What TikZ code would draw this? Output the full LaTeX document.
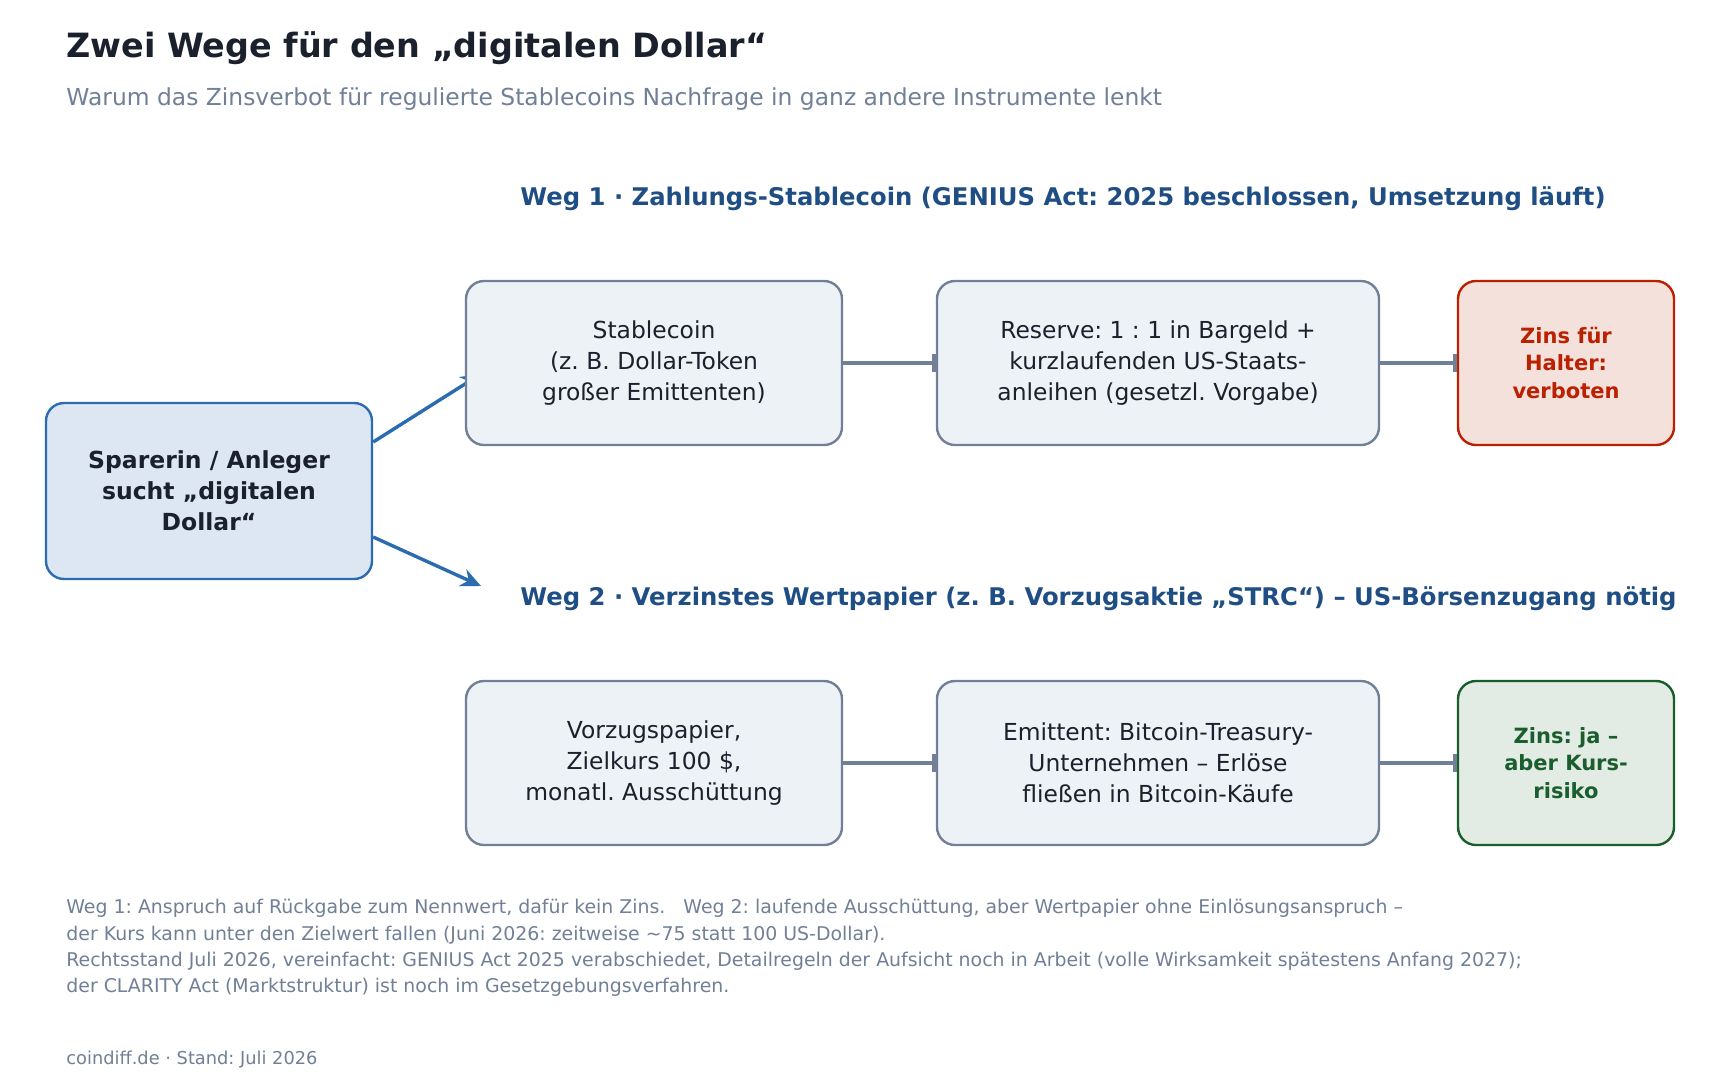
\documentclass[tikz,border=0pt]{standalone}
\usepackage{fontspec}
\setmainfont{DejaVu Sans}
\usetikzlibrary{arrows.meta,positioning,calc,backgrounds}
\frenchspacing

\definecolor{inkdark}{HTML}{1A202C}
\definecolor{slate}{HTML}{718096}
\definecolor{boxfill}{HTML}{EDF2F7}
\definecolor{wegblue}{HTML}{1F4E84}
\definecolor{arrowblue}{HTML}{2B6CB0}
\definecolor{saverfill}{HTML}{DCE7F3}
\definecolor{nored}{HTML}{B92100}
\definecolor{noredfill}{HTML}{F5E1DC}
\definecolor{okgreen}{HTML}{1A5E2D}
\definecolor{okgreenfill}{HTML}{E3ECE4}

\tikzset{
  stepbox/.style={draw=slate, fill=boxfill, line width=1.2pt, rounded corners=9pt,
    minimum height=82pt, align=center, text=inkdark, font=\fontsize{11.7}{15.5}\selectfont},
  verdict/.style={stepbox, minimum width=108pt, font=\fontsize{10.5}{13.9}\selectfont\bfseries},
  weghead/.style={anchor=west, inner sep=0pt, text=wegblue, font=\fontsize{12.15}{14}\selectfont\bfseries},
  flow/.style={draw=slate, line width=2pt, -{Bar[width=9pt]}},
  choice/.style={draw=arrowblue, line width=1.7pt, -{Stealth[length=10pt,width=9pt]}}
}

\begin{document}
\begin{tikzpicture}[x=0.5pt, y=-0.5pt]
  \useasboundingbox (0,0) rectangle (1712,1083);
  \begin{scope}[on background layer]
    \fill[white] (0,0) rectangle (1712,1083);
  \end{scope}

  % Titel
  \node[anchor=west, inner sep=0pt, text=inkdark, font=\fontsize{16.7}{20}\selectfont\bfseries] (title) at (66,48)
    {Zwei Wege für den „digitalen Dollar“};
  \node[anchor=west, inner sep=0pt, text=slate, font=\fontsize{11.7}{14}\selectfont] (subtitle) at (66,99)
    {Warum das Zinsverbot für regulierte Stablecoins Nachfrage in ganz andere Instrumente lenkt};

  % Ausgangspunkt
  \node[stepbox, draw=arrowblue, fill=saverfill, font=\fontsize{11.75}{15.5}\selectfont\bfseries,
    minimum width=163pt, minimum height=88pt] (saver) at (209,491)
    {Sparerin / Anleger\\sucht „digitalen\\Dollar“};

  % Weg 1
  \node[weghead] (head1) at (520,199)
    {Weg 1 · Zahlungs-Stablecoin (GENIUS Act: 2025 beschlossen, Umsetzung läuft)};
  \node[stepbox, minimum width=188pt] (coin) at (654,363)
    {Stablecoin\\(z. B. Dollar-Token\\großer Emittenten)};
  \node[stepbox, minimum width=221pt] (reserve) at (1158,363)
    {Reserve: 1 : 1 in Bargeld +\\kurzlaufenden US-Staats-\\anleihen (gesetzl. Vorgabe)};
  \node[verdict, draw=nored, fill=noredfill, text=nored] (nointerest) at (1566,363)
    {Zins für\\Halter:\\verboten};

  % Weg 2
  \node[weghead] (head2) at (520,599)
    {Weg 2 · Verzinstes Wertpapier (z. B. Vorzugsaktie „STRC“) – US-Börsenzugang nötig};
  \node[stepbox, minimum width=188pt] (pref) at (654,763)
    {Vorzugspapier,\\Zielkurs 100 \$,\\monatl. Ausschüttung};
  \node[stepbox, minimum width=221pt] (issuer) at (1158,763)
    {Emittent: Bitcoin-Treasury-\\Unternehmen – Erlöse\\fließen in Bitcoin-Käufe};
  \node[verdict, draw=okgreen, fill=okgreenfill, text=okgreen] (yield) at (1566,763)
    {Zins: ja –\\aber Kurs-\\risiko};

  % Verbindungen
  \draw[flow] (coin) -- (reserve);
  \draw[flow] (reserve) -- (nointerest);
  \draw[flow] (pref) -- (issuer);
  \draw[flow] (issuer) -- (yield);

  \coordinate (w2in) at (481,586);
  \begin{scope}[on background layer]
    \draw[choice] ($(saver.east)+(0,-49)$) -- ($(coin.west)+(16,11)$);
  \end{scope}
  \draw[choice] ($(saver.east)+(0,46)$) -- (w2in);

  % Fussnote
  \node[anchor=north west, inner sep=0pt, align=left, text=slate, font=\fontsize{9.45}{13.2}\selectfont] (notes) at (66,899)
    {Weg 1: Anspruch auf Rückgabe zum Nennwert, dafür kein Zins.\ \ \ Weg 2: laufende Ausschüttung, aber Wertpapier ohne Einlösungsanspruch –\\
     der Kurs kann unter den Zielwert fallen (Juni 2026: zeitweise \textasciitilde75 statt 100 US-Dollar).\\
     Rechtsstand Juli 2026, vereinfacht: GENIUS Act 2025 verabschiedet, Detailregeln der Aufsicht noch in Arbeit (volle Wirksamkeit spätestens Anfang 2027);\\
     der CLARITY Act (Marktstruktur) ist noch im Gesetzgebungsverfahren.};
  \node[anchor=west, inner sep=0pt, text=slate, font=\fontsize{8.9}{10}\selectfont] (source) at (66,1059)
    {coindiff.de · Stand: Juli 2026};
\end{tikzpicture}
\end{document}
